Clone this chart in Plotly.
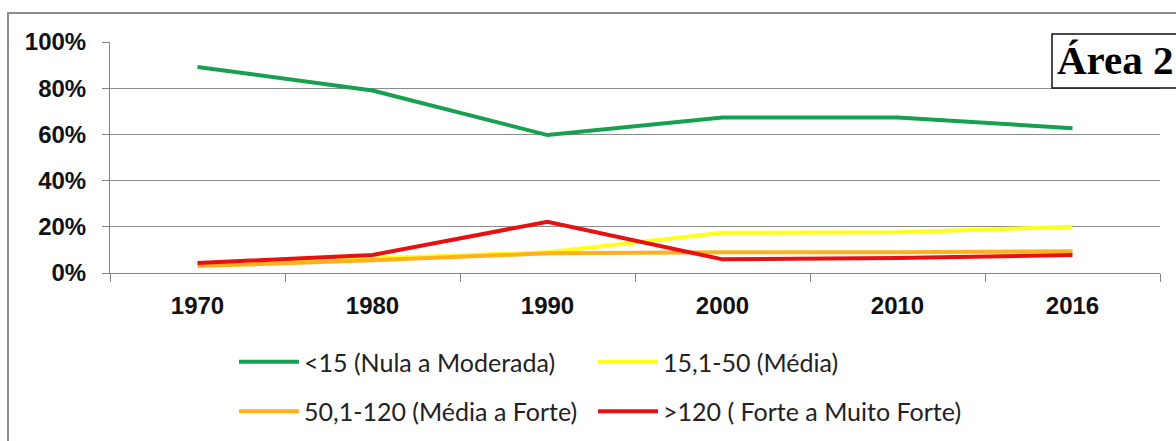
import plotly.graph_objects as go

years = ["1970", "1980", "1990", "2000", "2010", "2016"]
nula_moderada = [0.892, 0.790, 0.597, 0.673, 0.673, 0.627]
media = [0.035, 0.064, 0.090, 0.174, 0.176, 0.200]
media_forte = [0.030, 0.055, 0.085, 0.090, 0.090, 0.094]
forte_muito_forte = [0.043, 0.078, 0.222, 0.059, 0.065, 0.078]

names = ["<15 (Nula a Moderada)", "15,1-50 (Média)",
         "50,1-120 (Média a Forte)", ">120 ( Forte a Muito Forte)"]
colors = ["#16A050", "#FFFF1A", "#FFB01E", "#E81010"]
series = [nula_moderada, media, media_forte, forte_muito_forte]
legend_ids = ["legend", "legend2", "legend", "legend2"]

fig = go.Figure()
for i, (nm, vals, col, lg) in enumerate(zip(names, series, colors, legend_ids)):
    fig.add_trace(go.Scatter(
        x=years, y=vals, name=nm, mode="lines",
        line=dict(color=col, width=4),
        legend=lg, legendgroup=f"g{i}",
    ))

W, H = 1176, 441
L, R, T, B = 110, 16, 42, 168
pw, ph = W - L - R, H - T - B

def px(x):
    return (x - L) / pw

def py(y):
    return (H - B - y) / ph

def cx(x):
    return x / W

def cy(y):
    return 1 - y / H

legend_font = dict(family="Lato, Arial, sans-serif", size=25, color="#222222")
tick_font = dict(family="Liberation Sans, Arial, sans-serif", size=24, color="#111111", weight="bold")

fig.update_layout(
    width=W, height=H,
    margin=dict(l=L, r=R, t=T, b=B, autoexpand=False),
    paper_bgcolor="white", plot_bgcolor="white",
    showlegend=True,
    legend=dict(xref="container", yref="container",
                x=cx(234), y=cy(339), xanchor="left", yanchor="top",
                orientation="v", font=legend_font, tracegroupgap=14,
                itemwidth=60, bgcolor="rgba(0,0,0,0)"),
    legend2=dict(xref="container", yref="container",
                 x=cx(593), y=cy(339), xanchor="left", yanchor="top",
                 orientation="v", font=legend_font, tracegroupgap=14,
                 itemwidth=60, bgcolor="rgba(0,0,0,0)"),
    xaxis=dict(
        type="category", range=[-0.5, 5.5],
        showline=True, linecolor="#868686", linewidth=1,
        ticks="outside", tickson="boundaries", ticklen=8, tickcolor="#868686",
        showgrid=False, tickfont=tick_font, ticklabelstandoff=11,
    ),
    yaxis=dict(
        range=[0, 1], dtick=0.2, tickformat=".0%",
        showline=True, linecolor="#868686", linewidth=1,
        ticks="outside", ticklen=7, tickcolor="#868686",
        showgrid=True, gridcolor="#8C8C8C", gridwidth=1,
        zeroline=False, tickfont=tick_font, ticklabelstandoff=11,
    ),
    shapes=[
        dict(type="rect", xref="paper", yref="paper",
             x0=px(8), x1=px(1190), y0=py(13), y1=py(460),
             line=dict(color="#8A8A8A", width=2), layer="below"),
        dict(type="rect", xref="paper", yref="paper",
             x0=px(1052), x1=px(1190), y0=py(34), y1=py(88),
             line=dict(color="#111111", width=1.5), fillcolor="white",
             layer="above"),
    ],
    annotations=[
        dict(text="<b>Área 2</b>", xref="paper", yref="paper",
             x=px(1055), y=py(60), xanchor="left", yanchor="middle",
             showarrow=False,
             font=dict(family="Liberation Serif, Times New Roman, serif",
                       size=41, color="#000000")),
    ],
)

fig.write_html("out.html")
